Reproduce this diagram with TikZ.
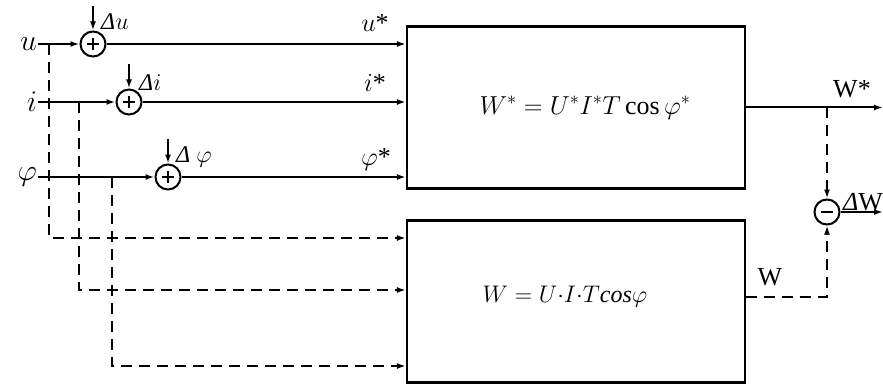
\RequirePackage{fix-cm}
\documentclass[tikz,border=0pt]{standalone}
\usepackage{fontspec}
\setmainfont{Liberation Serif}
\usetikzlibrary{arrows.meta}
\tikzset{
  sig/.style={line width=2pt},
  dsig/.style={line width=2pt, dash pattern=on 11pt off 7pt},
  arr/.style={-{Latex[length=9pt,width=6pt]}},
  blk/.style={draw, line width=2.3pt, minimum width=338pt, minimum height=162pt, inner sep=0pt},
  sumc/.style={draw, circle, line width=2pt, minimum size=25pt, inner sep=0pt},
  plus/.style={sumc, path picture={
      \draw[line width=2pt] ([xshift=-6pt]path picture bounding box.center) -- ([xshift=6pt]path picture bounding box.center);
      \draw[line width=2pt] ([yshift=-6pt]path picture bounding box.center) -- ([yshift=6pt]path picture bounding box.center);}},
  minus/.style={sumc, path picture={
      \draw[line width=2.4pt] ([xshift=-6pt]path picture bounding box.center) -- ([xshift=6pt]path picture bounding box.center);}},
  inlbl/.style={inner sep=1pt, font=\fontsize{30}{30}\selectfont},
  dlbl/.style={inner sep=0pt, anchor=base west, font=\fontsize{24}{24}\selectfont},
  slbl/.style={inner sep=0pt, anchor=base, font=\fontsize{26}{26}\selectfont},
  olbl/.style={inner sep=0pt, anchor=base, font=\fontsize{26}{26}\selectfont},
  eq/.style={inner sep=0pt, font=\fontsize{24}{24}\selectfont},
}
\begin{document}
\begin{tikzpicture}[x=1pt,y=-1pt]
\useasboundingbox (0,0) rectangle (883,385);

% blocks
\node[blk] (top) at (576,107.5) {};
\node[blk] (bot) at (576,301.5) {};
\node[eq, font=\fontsize{26}{26}\selectfont] (eqt) at (585,108) {$W^{*} = U^{*}I^{*}T\cos\varphi^{*}$};
\node[eq] (eqb) at (565,297) {$W = U{\cdot}I{\cdot}T\mathit{cos}\varphi$};

% input labels
\node[inlbl, anchor=east] (lu) at (38,44) {$u$};
\node[inlbl, anchor=east] (li) at (38,102) {$i$};
\node[inlbl, anchor=east] (lp) at (38,177) {$\varphi$};

% summing junctions
\node[plus] (su) at (93,44) {};
\node[plus] (si) at (129,102) {};
\node[plus] (sp) at (168,177) {};
\node[minus] (sw) at (827,212) {};

% disturbance inputs
\coordinate (du) at (93,6);
\coordinate (di) at (129,64);
\coordinate (dp) at (168,139);
\draw[sig,arr] (du) -- (su.north);
\draw[sig,arr] (di) -- (si.north);
\draw[sig,arr] (dp) -- (sp.north);
\node[dlbl] (ldu) at (101,30) {\textit{Δ}$u$};
\node[dlbl] (ldi) at (139,91) {\textit{Δ}$i$};
\node[dlbl] (ldp) at (176,162) {\textit{Δ} $\varphi$};

% main signal lines
\draw[sig,arr] (lu.east) -- (su.west);
\draw[sig,arr] (li.east) -- (si.west);
\draw[sig,arr] (lp.east) -- (sp.west);
\draw[sig,arr] (su.east) -- (su.east -| top.west);
\draw[sig,arr] (si.east) -- (si.east -| top.west);
\draw[sig,arr] (sp.east) -- (sp.east -| top.west);
\node[slbl] (lus) at (375,32) {$u$*};
\node[slbl] (lis) at (375,92) {$i$*};
\node[slbl] (lps) at (376,165) {$\varphi$*};

% dashed branches to lower block
\coordinate (bu) at (49,44);
\coordinate (bi) at (79,102);
\coordinate (bp) at (112,177);
\coordinate (h1) at (0,238);
\coordinate (h2) at (0,290);
\coordinate (h3) at (0,366);
\draw[dsig,arr] (bu) |- (bot.west |- h1);
\draw[dsig,arr] (bi) |- (bot.west |- h2);
\draw[dsig,arr] (bp) |- (bot.west |- h3);

% outputs
\coordinate (wout) at (883,107.5);
\coordinate (bw) at (827,107.5);
\coordinate (dwout) at (883,212);
\coordinate (wy) at (0,297);
\draw[sig,arr] (top.east) -- (wout);
\draw[dsig,arr] (bw) -- (sw.north);
\draw[dsig,arr] (bot.east |- wy) -| (sw.south);
\draw[sig,arr] (sw.east) -- (dwout);
\node[olbl] (lws) at (852,98) {W*};
\node[olbl] (lw) at (770,285) {W};
\node[olbl, anchor=base west] (ldw) at (843,210) {\textit{Δ}W};
\end{tikzpicture}
\end{document}
